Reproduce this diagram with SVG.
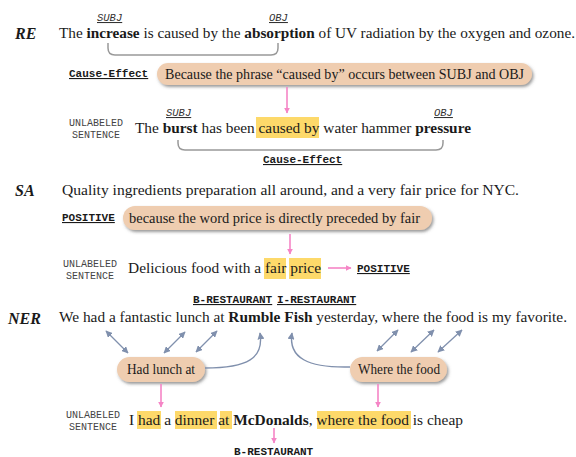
<svg xmlns="http://www.w3.org/2000/svg" width="576" height="457" viewBox="0 0 576 457">
<defs>
<style>
.t{font-family:"Liberation Serif","Times New Roman",serif;font-size:14.5px;fill:#1a1a1a}
.b{font-weight:bold}
.tag{font-family:"Liberation Serif",serif;font-size:16px;font-weight:bold;font-style:italic;fill:#1a1a1a}
.lab{font-family:"Liberation Mono","Courier New",monospace;font-size:11px;font-weight:bold;fill:#1a1a1a;text-decoration:underline}
.role{font-family:"Liberation Mono","Courier New",monospace;font-size:10.5px;font-style:italic;fill:#333;text-decoration:underline}
.un{font-family:"Liberation Mono","Courier New",monospace;font-size:10px;fill:#444;text-anchor:middle}
.pill{fill:#efcdb0;filter:url(#sh)}
.hl{fill:#fdd96a}
.pk{stroke:#f585c6;stroke-width:1.6;fill:none;marker-end:url(#pa)}
.gb{stroke:#8090ad;stroke-width:1.3;fill:none;marker-start:url(#ga);marker-end:url(#ga)}
.gc{stroke:#8090ad;stroke-width:1.4;fill:none;marker-end:url(#ga)}
.br{stroke:#999;stroke-width:1.5;fill:none}
</style>
<filter id="sh" x="-10%" y="-30%" width="120%" height="180%">
<feDropShadow dx="1.5" dy="2" stdDeviation="1.5" flood-color="#555" flood-opacity="0.6"/>
</filter>
<marker id="pa" viewBox="0 0 10 10" refX="9" refY="5" markerWidth="6" markerHeight="6" orient="auto-start-reverse" markerUnits="userSpaceOnUse">
<path d="M0,0 L10,5 L0,10 z" fill="#f585c6"/>
</marker>
<marker id="ga" viewBox="0 0 10 10" refX="9" refY="5" markerWidth="7" markerHeight="7" orient="auto-start-reverse" markerUnits="userSpaceOnUse">
<path d="M0,0 L10,5 L0,10 z" fill="#8090ad"/>
</marker>
</defs>

<!-- RE -->
<g id="re">
<text class="tag" x="15" y="39">RE</text>
<text class="role" x="97" y="21">SUBJ</text>
<text class="role" x="269" y="21">OBJ</text>
<text class="t" x="59" y="38" textLength="516" lengthAdjust="spacingAndGlyphs">The <tspan class="b">increase</tspan> is caused by the <tspan class="b">absorption</tspan> of UV radiation by the oxygen and ozone.</text>
<path class="br" d="M108,43 v5 q0,7 7,7 h156 q7,0 7,-7 v-5"/>
</g>
<g id="re-rule">
<text class="lab" x="69" y="77">Cause-Effect</text>
<rect class="pill" x="157" y="63" width="375" height="22" rx="11"/>
<text class="t" x="165" y="79" textLength="359" lengthAdjust="spacingAndGlyphs">Because the phrase “caused by” occurs between SUBJ and OBJ</text>
</g>
<g id="re-unlabeled">
<text class="un" x="96" y="126">UNLABELED</text>
<text class="un" x="96" y="138">SENTENCE</text>
<rect class="hl" x="256" y="117" width="63" height="21"/>
<text class="role" x="166" y="116">SUBJ</text>
<text class="role" x="434" y="116">OBJ</text>
<text class="t" x="135" y="133" textLength="336" lengthAdjust="spacingAndGlyphs">The <tspan class="b">burst</tspan> has been caused by water hammer <tspan class="b">pressure</tspan></text>
<path class="br" d="M178,140 v3 q0,7 7,7 h251 q7,0 7,-7 v-3"/>
<text class="lab" x="263" y="163">Cause-Effect</text>
</g>

<!-- SA -->
<g id="sa">
<text class="tag" x="15" y="196">SA</text>
<text class="t" x="62" y="195" textLength="457" lengthAdjust="spacingAndGlyphs">Quality ingredients preparation all around, and a very fair price for NYC.</text>
</g>
<g id="sa-rule">
<text class="lab" x="62" y="221">POSITIVE</text>
<rect class="pill" x="123" y="206" width="309" height="24" rx="12"/>
<text class="t" x="129" y="223" textLength="291" lengthAdjust="spacingAndGlyphs">because the word price is directly preceded by fair</text>
</g>
<g id="sa-unlabeled">
<text class="un" x="90" y="267">UNLABELED</text>
<text class="un" x="90" y="279">SENTENCE</text>
<rect class="hl" x="264" y="258" width="22" height="21"/>
<rect class="hl" x="289" y="258" width="32" height="21"/>
<text class="t" x="128" y="273" textLength="193" lengthAdjust="spacingAndGlyphs">Delicious food with a fair price</text>
<text class="lab" x="357" y="272">POSITIVE</text>
</g>

<!-- NER -->
<g id="ner">
<text class="tag" x="8" y="324">NER</text>
<text class="lab" x="193" y="303">B-RESTAURANT</text>
<text class="lab" x="277" y="303">I-RESTAURANT</text>
<text class="t" x="59" y="322" textLength="508" lengthAdjust="spacingAndGlyphs">We had a fantastic lunch at <tspan class="b">Rumble Fish</tspan> yesterday, where the food is my favorite.</text>
</g>
<g id="ner-rule1">
<rect class="pill" x="117" y="357" width="88" height="25" rx="12.5"/>
<text class="t" x="127" y="374" textLength="68" lengthAdjust="spacingAndGlyphs">Had lunch at</text>
</g>
<g id="ner-rule2">
<rect class="pill" x="350" y="357" width="97" height="25" rx="12.5"/>
<text class="t" x="358" y="374" textLength="82" lengthAdjust="spacingAndGlyphs">Where the food</text>
</g>
<g id="ner-unlabeled">
<text class="un" x="93" y="418">UNLABELED</text>
<text class="un" x="93" y="430">SENTENCE</text>
<rect class="hl" x="137" y="411" width="24" height="18"/>
<rect class="hl" x="175" y="411" width="42" height="18"/>
<rect class="hl" x="220" y="411" width="12" height="18"/>
<rect class="hl" x="317" y="411" width="94" height="18"/>
<text class="t" x="129" y="425" textLength="334" lengthAdjust="spacingAndGlyphs">I had a dinner at <tspan class="b">McDonalds</tspan>, where the food is cheap</text>
<text class="lab" x="234" y="455" style="text-decoration:none">B-RESTAURANT</text>
</g>

<!-- connectors -->
<g id="connectors">
<path class="pk" d="M287,87 V113"/>
<path class="pk" d="M290,234 V254"/>
<path class="pk" d="M328,268 H351"/>
<path class="gb" d="M106,331 L128,353"/>
<path class="gb" d="M185,332 L164,353"/>
<path class="gb" d="M217,331 L196,352"/>
<path class="gc" d="M205,368 C248,368 264,358 260,333"/>
<path class="gb" d="M398,330 L377,351"/>
<path class="gb" d="M434,330 L411,352"/>
<path class="gb" d="M462,330 L438,352"/>
<path class="gc" d="M350,367 C308,368 288,358 292,333"/>
<path class="pk" d="M161,384 V407"/>
<path class="pk" d="M378,384 V407"/>
<path class="pk" d="M274,428 V443"/>
</g>
</svg>
